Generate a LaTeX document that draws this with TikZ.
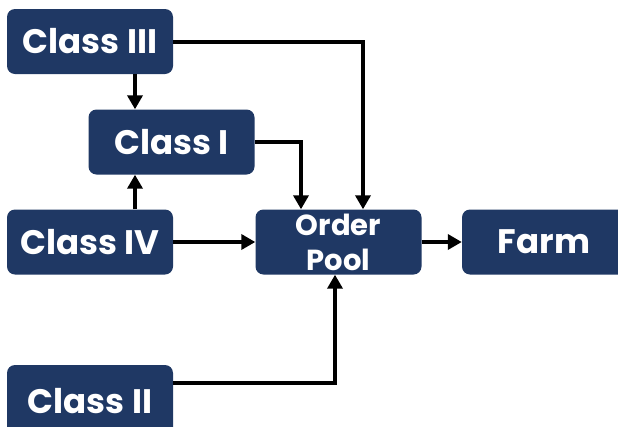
\documentclass[tikz,border=0pt]{standalone}
\usepackage{fontspec}
\setmainfont{Poppins}
\usetikzlibrary{arrows.meta}
\definecolor{navy}{RGB}{31,56,100}
\begin{document}
\begin{tikzpicture}[x=1pt,y=-1pt,
  box/.style={fill=navy, rounded corners=8pt, text=white, inner sep=0pt,
    minimum width=166pt, minimum height=65pt, font=\bfseries\fontsize{34}{34}\selectfont},
  conn/.style={line width=4pt, -{Triangle[length=14pt,width=15pt]}}]
\useasboundingbox (0,0) rectangle (618,426);
\node[box] (c3) at (90,41.5) {Class III};
\node[box] (c1) at (171.5,142) {Class I};
\node[box] (c4) at (90,242) {Class IV};
\node[box, align=center, font=\bfseries\fontsize{29}{35}\selectfont] (op) at (338.5,242) {Order\\Pool};
\node[box, minimum width=168pt] (fa) at (546,242) {\hspace*{-4pt}Farm};
\node[box, minimum height=75pt] (c2) at (90,402.5) {\raisebox{4pt}{Class II}};
% connection points
\coordinate (c3b) at ([xshift=45pt]c3.south);
\coordinate (c1t) at ([xshift=-36.5pt]c1.north);
\coordinate (c1b) at ([xshift=-36.5pt]c1.south);
\coordinate (c4t) at ([xshift=45pt]c4.north);
\coordinate (opt1) at ([xshift=-37.5pt]op.north);
\coordinate (opt2) at ([xshift=24.5pt]op.north);
\coordinate (opb) at ([xshift=-3.5pt]op.south);
\coordinate (c2r) at ([yshift=19.5pt]c2.east);
\draw[conn] (c3.east) -| (opt2);
\draw[conn] (c3b) -- (c1t);
\draw[conn] (c4t) -- (c1b);
\draw[conn] (c1.east) -| (opt1);
\draw[conn] (c4.east) -- (op.west);
\draw[conn] (op.east) -- (fa.west);
\draw[conn] (c2r) -| (opb);
\end{tikzpicture}
\end{document}
